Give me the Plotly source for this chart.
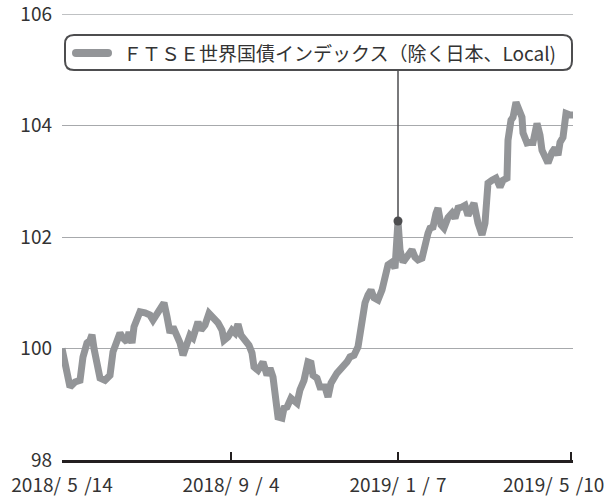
import plotly.graph_objects as go

# trading-day index (approx.) and index level
day = [0, 4, 6.5, 9, 10.5, 12.5, 14, 15, 16, 19, 21.5, 24, 25.5, 27.5, 29, 30.5, 32.5, 33.5, 35, 36,
       37.5, 39, 41.5, 44, 45.5, 47.5, 50, 51, 52.5, 54, 55.5, 57.5, 59, 60.5, 62.5, 64,
       65.5, 68, 69.5, 71.5, 73.5, 75.5, 78, 80, 81, 83, 85, 86.5, 88, 89.5, 91.5, 93.5, 95, 96,
       98, 100.5, 102.5, 104, 105.5, 107, 108, 110, 111, 112.5, 114.5, 115.5, 117.5, 119, 121, 123,
       124.5, 125.5, 127.5, 129, 131.5, 133, 134.5, 137.5, 140, 142.5, 144, 146, 148, 149, 150,
       151.5, 153, 154.5, 156, 158, 160, 161.5, 163, 165, 166.5, 168, 169, 170.5, 173, 175, 176.5,
       178, 180, 181, 183, 184, 185.5, 187, 188, 189.5, 191, 193, 195, 196.5, 198, 200, 201.5, 203,
       204.5, 206, 208, 210, 211.5, 213, 215, 217, 219, 220.5, 222.5, 223, 224.5, 225.5, 227, 228,
       230, 230.5, 232.5, 234, 235.5, 237.5, 239, 240, 241.5, 243, 245, 246.5, 248, 249, 250.5,
       252, 254, 255.5]
value = [100.0, 99.31, 99.4, 99.43, 99.85, 100.1, 100.15, 100.25, 100.0, 99.47, 99.43, 99.52, 99.94,
         100.15, 100.28, 100.19, 100.12, 100.3, 100.1, 100.39, 100.51, 100.66, 100.64, 100.6, 100.51,
         100.64, 100.78, 100.82, 100.57, 100.28, 100.39, 100.24, 100.1, 99.88, 100.06, 100.24,
         100.19, 100.48, 100.33, 100.42, 100.63, 100.57, 100.46, 100.33, 100.15, 100.21, 100.33,
         100.28, 100.44, 100.24, 100.15, 100.06, 99.92, 99.67, 99.61, 99.76, 99.52, 99.65, 99.49,
         99.08, 98.77, 98.75, 98.93, 98.95, 99.11, 99.08, 99.02, 99.26, 99.43, 99.76, 99.74, 99.52,
         99.47, 99.31, 99.31, 99.13, 99.38, 99.56, 99.65, 99.76, 99.85, 99.88, 100.03, 100.28,
         100.57, 100.82, 100.96, 101.05, 100.91, 100.87, 101.05, 101.32, 101.5, 101.55, 101.44,
         102.29, 101.77, 101.55, 101.68, 101.77, 101.64, 101.59, 101.62, 101.82, 102.07, 102.16,
         102.18, 102.43, 102.52, 102.22, 102.16, 102.35, 102.43, 102.34, 102.52, 102.54, 102.57,
         102.39, 102.54, 102.61, 102.25, 102.04, 102.25, 102.97, 103.02, 103.06, 102.9, 103.02,
         103.06, 103.74, 104.1, 104.15, 104.42, 104.33, 104.15, 103.87, 103.69, 103.7, 103.7,
         104.04, 103.83, 103.56, 103.43, 103.33, 103.52, 103.6, 103.47, 103.7, 103.79, 104.22,
         104.19, 104.19]

tick_days = [0, 84.5, 168, 254.5]
S = "\u2004"
tick_text = [f"2018/{S}5{S}/14", f"2018/{S}9{S}/{S}4", f"2019/{S}1{S}/{S}7", f"2019/{S}5{S}/10"]
y_ticks = [98, 100, 102, 104, 106]

series_name = "ＦＴＳＥ世界国債インデックス（除く日本、Local)"
marker_day = 168
marker_idx = day.index(marker_day)
callout_top = 105.0

LINE = "#939598"
DARK = "#4d4d4f"
TXT = "#333333"
GRID = "#a7a9ac"
FONT = "Noto Sans CJK JP, Noto Sans, sans-serif"

# plot area in pixels
L, T, PW, PH = 62, 14, 511, 446
def px(x):
    return (x - L) / PW
def py(y):
    return (T + PH - y) / PH

fig = go.Figure()
# top gridline (plotly drops the grid line lying on the plot edge)
fig.add_shape(type="line", xref="paper", yref="y", x0=0, x1=1, y0=y_ticks[-1], y1=y_ticks[-1],
              line=dict(color=GRID, width=1), layer="below")
fig.add_trace(go.Scatter(x=day, y=value, mode="lines",
                         line=dict(color=LINE, width=7, shape="linear"),
                         hoverinfo="skip", showlegend=False, cliponaxis=False))
fig.add_shape(type="line", xref="x", yref="y",
              x0=day[marker_idx], x1=day[marker_idx], y0=value[marker_idx], y1=callout_top,
              line=dict(color=DARK, width=1.5))
fig.add_trace(go.Scatter(x=[day[marker_idx]], y=[value[marker_idx]], mode="markers",
                         marker=dict(color=DARK, size=9), showlegend=False, hoverinfo="skip"))

# legend box
x0, x1, y0, y1, r = 65, 572, 35, 70, 9
path = (f"M {px(x0+r)},{py(y0)} L {px(x1-r)},{py(y0)} "
        f"Q {px(x1)},{py(y0)} {px(x1)},{py(y0+r)} L {px(x1)},{py(y1-r)} "
        f"Q {px(x1)},{py(y1)} {px(x1-r)},{py(y1)} L {px(x0+r)},{py(y1)} "
        f"Q {px(x0)},{py(y1)} {px(x0)},{py(y1-r)} L {px(x0)},{py(y0+r)} "
        f"Q {px(x0)},{py(y0)} {px(x0+r)},{py(y0)} Z")
fig.add_shape(type="path", xref="paper", yref="paper", path=path,
              line=dict(color=DARK, width=2), fillcolor="white", layer="above")
# legend sample line
sx0, sx1, sy0, sy1 = 72, 112, 49, 57
rr = 4
spath = (f"M {px(sx0+rr)},{py(sy0)} L {px(sx1-rr)},{py(sy0)} "
         f"Q {px(sx1)},{py(sy0)} {px(sx1)},{py((sy0+sy1)/2)} "
         f"Q {px(sx1)},{py(sy1)} {px(sx1-rr)},{py(sy1)} L {px(sx0+rr)},{py(sy1)} "
         f"Q {px(sx0)},{py(sy1)} {px(sx0)},{py((sy0+sy1)/2)} "
         f"Q {px(sx0)},{py(sy0)} {px(sx0+rr)},{py(sy0)} Z")
fig.add_shape(type="path", xref="paper", yref="paper", path=spath,
              line=dict(width=0), fillcolor=LINE, layer="above")
fig.add_annotation(xref="paper", yref="paper", x=px(121), y=py(52.5), xanchor="left",
                   yanchor="middle", text=series_name, showarrow=False,
                   font=dict(family=FONT, size=19, color=TXT))

# last x label kept inside the figure (as in the reference)
fig.add_annotation(xref="paper", yref="paper", x=px(606), y=py(483), xanchor="right",
                   yanchor="middle", text=tick_text[-1], showarrow=False,
                   font=dict(family=FONT, size=19, color=TXT))

fig.update_layout(
    width=614, height=498,
    margin=dict(l=L, r=614 - L - PW, t=T, b=498 - T - PH),
    paper_bgcolor="white", plot_bgcolor="white",
    font=dict(family=FONT, color=TXT, size=19),
    xaxis=dict(range=[0, 255.5], tickvals=tick_days, ticktext=tick_text[:-1] + [""],
               showgrid=False, zeroline=False, showline=True, linecolor="#231f20",
               linewidth=3, ticks="inside", ticklen=8, tickwidth=2, tickcolor="#231f20",
               tickfont=dict(size=19, color=TXT), ticklabelstandoff=6, fixedrange=True,
               automargin=False),
    yaxis=dict(range=[98, 106.004], tickvals=y_ticks, showgrid=True, gridcolor=GRID,
               gridwidth=1, zeroline=False, showline=False, ticks="",
               tickfont=dict(size=19, color=TXT), ticklabelstandoff=9, fixedrange=True,
               automargin=False, ticklabeloverflow="allow"),
)
fig.write_html("out.html")
